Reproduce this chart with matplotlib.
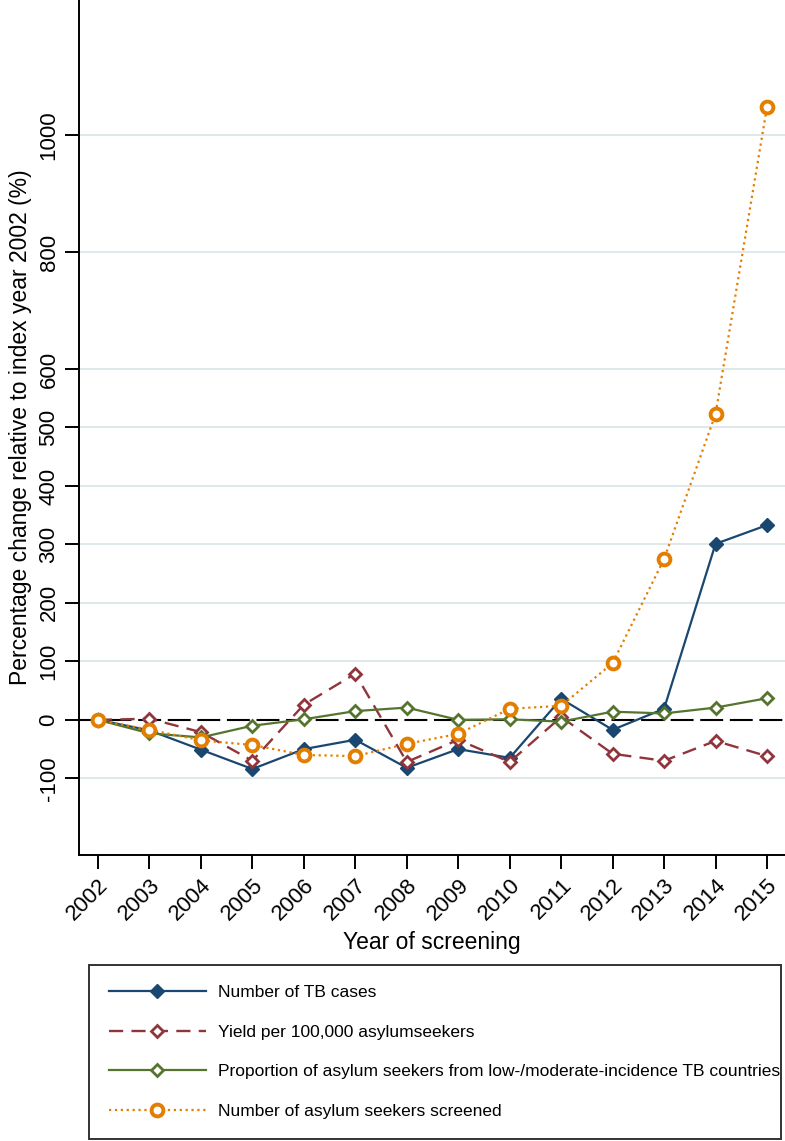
import matplotlib
matplotlib.use('Agg')
import matplotlib.pyplot as plt

plt.rcParams['font.family'] = ['Liberation Sans', 'DejaVu Sans']

# Data (percentage change vs 2002)
years = [2002, 2003, 2004, 2005, 2006, 2007, 2008, 2009, 2010, 2011, 2012, 2013, 2014, 2015]
tb_cases = [0, -18, -51, -84, -50, -34, -82, -50, -65, 36, -17, 19, 301, 333]
yield_per_100k = [0, 2, -21, -70, 26, 79, -72, -34, -72, 5, -58, -70, -36, -62]
prop_low_mod = [0, -23, -30, -10, 1, 15, 21, 0, 1, -3, 14, 11, 21, 37]
screened = [0, -17, -35, -43, -60, -62, -41, -24, 19, 24, 97, 275, 523, 1048]

y_ticks = [-100, 0, 100, 200, 300, 400, 500, 600, 800, 1000]
labels = ['Number of TB cases',
          'Yield per 100,000 asylumseekers',
          'Proportion of asylum seekers from low-/moderate-incidence TB countries',
          'Number of asylum seekers screened']

navy = '#1a476f'
maroon = '#90353b'
green = '#55752f'
orange = '#e37e00'

fig = plt.figure(figsize=(7.85, 11.41), dpi=100)
ax = fig.add_axes([0.1006, 0.2507, 0.8994, 0.7493])

# light grid lines at the labelled ticks, dashed reference line at zero
for y in y_ticks:
    if y != 0:
        ax.axhline(y, color='#dfe9ec', lw=1.4, zorder=0)
ax.axhline(0, color='black', lw=1.5, dashes=(11, 3.2), zorder=1)

ax.plot(years, tb_cases, color=navy, lw=1.6, marker='D', ms=7.5,
        mfc=navy, mec=navy, label=labels[0], zorder=3)
ax.plot(years, yield_per_100k, color=maroon, lw=1.7, dashes=(6, 3.5), marker='D', ms=6.5,
        mfc='white', mec=maroon, mew=2.0, label=labels[1], zorder=3)
ax.plot(years, prop_low_mod, color=green, lw=1.6, marker='D', ms=6.5,
        mfc='white', mec=green, mew=2.0, label=labels[2], zorder=3)
ax.plot(years, screened, color=orange, lw=1.6, ls=':', marker='o', ms=8.5,
        mfc='white', mec=orange, mew=2.8, label=labels[3], zorder=4)

ax.set_xlim(2001.63, 2015.35)
ax.set_ylim(-231, 1231)
ax.set_xticks(years)
ax.set_xticklabels([str(y) for y in years], rotation=45, ha='right',
                   rotation_mode='anchor', fontsize=16)
ax.set_yticks(y_ticks)
ax.set_yticklabels([str(y) for y in y_ticks], rotation=90, va='center', fontsize=16)
ax.tick_params(axis='both', direction='out', length=10, width=1.4, color='black')
ax.tick_params(axis='x', pad=4)
ax.tick_params(axis='y', pad=4)

for s in ['top', 'right']:
    ax.spines[s].set_visible(False)
for s in ['left', 'bottom']:
    ax.spines[s].set_linewidth(1.4)

ax.set_xlabel('Year of screening', fontsize=16.5, labelpad=5)
ax.set_ylabel('Percentage change relative to index year 2002 (%)', fontsize=16.5, labelpad=5)

handles, labs = ax.get_legend_handles_labels()
leg = fig.legend(handles, labs, loc='upper left',
                 bbox_to_anchor=(0.1134, 0.0009, 0.8815, 0.1534),
                 mode='expand', borderaxespad=0, fontsize=12.5,
                 handlelength=5.6, handletextpad=0.7, labelspacing=1.42,
                 borderpad=1.14, fancybox=False, frameon=True)
leg.get_frame().set_edgecolor('black')
leg.get_frame().set_linewidth(1.4)

fig.savefig('out.png', dpi=100)
